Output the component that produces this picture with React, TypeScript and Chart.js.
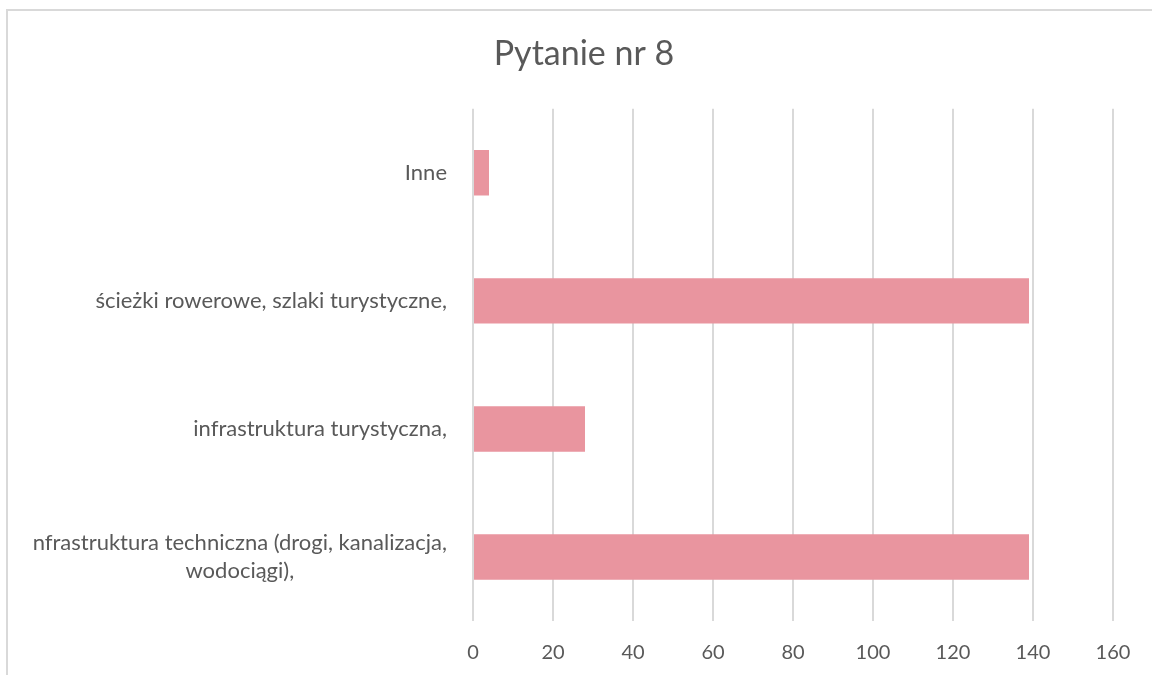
import React, { useEffect, useRef } from "react";
import { Chart, registerables } from "chart.js";

Chart.register(...registerables);

const TITLE = "Pytanie nr 8";
const CATEGORIES: (string | string[])[] = [
  "Inne",
  "ścieżki rowerowe, szlaki turystyczne,",
  "infrastruktura turystyczna,",
  ["nfrastruktura techniczna (drogi, kanalizacja,", "wodociągi),"],
];
const VALUES = [4, 139, 28, 139];
const X_TICKS = [0, 20, 40, 60, 80, 100, 120, 140, 160];

const FONT = "Lato, 'Open Sans', sans-serif";
const TEXT = "#595959";
const GRID = "#D9D9D9";
const BAR = "#E9959F";

export default function App() {
  const ref = useRef<HTMLCanvasElement | null>(null);

  useEffect(() => {
    if (!ref.current) return;

    const frame = {
      id: "frame",
      beforeDraw(chart: any) {
        const ctx = chart.ctx;
        ctx.save();
        ctx.fillStyle = "#ffffff";
        ctx.fillRect(0, 0, chart.width, chart.height);
        ctx.strokeStyle = GRID;
        ctx.lineWidth = 2;
        ctx.beginPath();
        ctx.moveTo(7, chart.height);
        ctx.lineTo(7, 10);
        ctx.lineTo(chart.width, 10);
        ctx.stroke();
        ctx.restore();
      },
    };

    const yLabels = {
      id: "yLabels",
      afterDraw(chart: any) {
        const ctx = chart.ctx;
        const y = chart.scales.y;
        const right = chart.chartArea.left - 26;
        ctx.save();
        ctx.font = `22px ${FONT}`;
        ctx.fillStyle = TEXT;
        ctx.textBaseline = "middle";
        const lh = 28;
        CATEGORIES.forEach((lab, i) => {
          const lines = Array.isArray(lab) ? lab : [lab];
          const widths = lines.map((l) => ctx.measureText(l).width);
          const w = Math.max(...widths);
          const cx = right - w / 2;
          const cy = y.getPixelForValue(i);
          lines.forEach((l, j) => {
            ctx.textAlign = "center";
            ctx.fillText(l, cx, cy + (j - (lines.length - 1) / 2) * lh);
          });
        });
        ctx.restore();
      },
    };

    const chart = new Chart(ref.current, {
      type: "bar",
      data: {
        labels: CATEGORIES as any,
        datasets: [
          {
            data: VALUES,
            backgroundColor: BAR,
            borderWidth: 0,
            barPercentage: 0.355,
            categoryPercentage: 1,
          },
        ],
      },
      options: {
        indexAxis: "y",
        animation: false,
        responsive: true,
        maintainAspectRatio: false,
        layout: { padding: { left: 55, right: 39, top: 0, bottom: 0 } },
        plugins: {
          legend: { display: false },
          tooltip: { enabled: false },
          title: {
            display: true,
            text: TITLE,
            color: TEXT,
            font: { family: FONT, size: 34, weight: "normal" },
            padding: { top: 34, bottom: 34 },
          },
        },
        scales: {
          x: {
            min: 0,
            max: 160,
            afterBuildTicks(scale: any) {
              scale.ticks = X_TICKS.map((v) => ({ value: v }));
            },
            afterFit(scale: any) {
              scale.height = 54;
            },
            grid: { color: GRID, lineWidth: 2, drawTicks: false },
            border: { display: false },
            ticks: {
              color: TEXT,
              padding: 20,
              font: { family: FONT, size: 20 },
            },
          },
          y: {
            afterFit(scale: any) {
              scale.width = 473 - 55;
            },
            grid: { display: false },
            border: { display: false },
            ticks: { display: false },
          },
        },
      },
      plugins: [frame, yLabels],
    });
    return () => chart.destroy();
  }, []);

  return (
    <div style={{ position: "absolute", left: 0, top: 0, width: 1152, height: 675 }}>
      <canvas ref={ref} />
    </div>
  );
}
